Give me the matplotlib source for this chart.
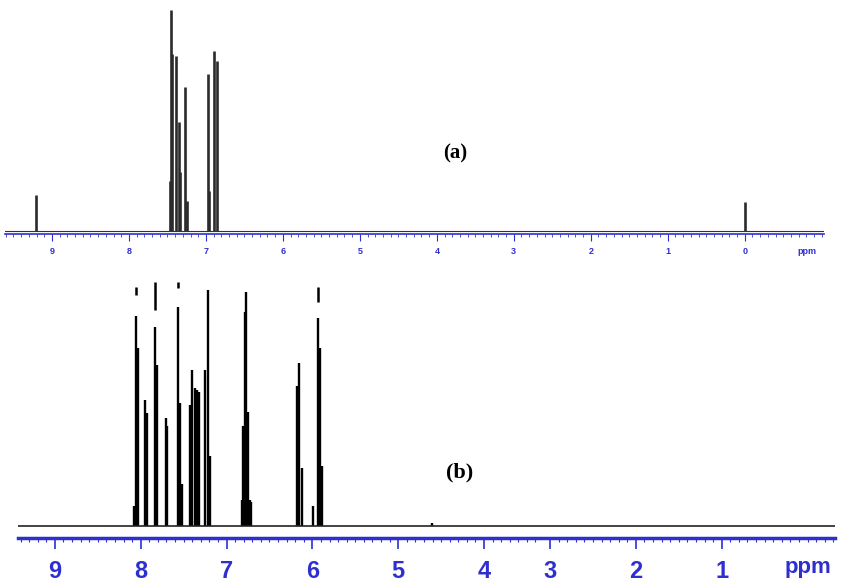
import numpy as np
import matplotlib.pyplot as plt

# (a) peak positions (ppm) and heights (relative intensity)
ppm_a = [9.21, 7.47, 7.455, 7.435, 7.39, 7.35, 7.34, 7.27, 7.25, 6.97, 6.96, 6.90, 6.86, 0.0]
int_a = [36, 50, 221, 177, 175, 109, 59, 144, 30, 157, 40, 180, 170, 29]

# (b) peak positions (ppm) and heights
ppm_b = [8.08, 8.056, 8.03, 7.95, 7.93, 7.83, 7.81, 7.71, 7.69, 7.57, 7.54, 7.52,
         7.42, 7.40, 7.37, 7.35, 7.32, 7.25, 7.22, 7.19,
         6.82, 6.81, 6.79, 6.77, 6.75, 6.73, 6.71,
         6.18, 6.16, 6.12, 5.99, 5.93, 5.91, 5.89, 4.61]
int_b = [20, 210, 178, 126, 113, 199, 161, 108, 100, 219, 123, 42,
         121, 156, 138, 136, 134, 156, 236, 70,
         26, 100, 214, 234, 114, 26, 24,
         140, 163, 58, 20, 208, 178, 60, 3]

# small marks drawn above some multiplets in (b)
mark_ppm = [8.056, 7.83, 7.57, 5.93]
mark_lo = [231, 216, 238, 224]
mark_hi = [239, 244, 244, 239]

ticks_a = [9, 8, 7, 6, 5, 4, 3, 2, 1, 0]
ticks_b = ['9', '8', '7', '6', '5', '4', '3', '2', '1']

blue = '#2f2fd0'
sans = 'Liberation Sans'
fig = plt.figure(figsize=(8.47, 5.88), dpi=100)

# ---- top spectrum (a)
ax1 = fig.add_axes([5 / 847, 1 - 234 / 588, 819 / 847, 229 / 588])
ax1.vlines(ppm_a, 0, int_a, color='#2b2b2b', lw=1.9)
ax1.axhline(0, color='#333333', lw=0.8)
ax1.set_xlim(9.61, -1.03)
ax1.set_ylim(-3, 226)
for s in ['top', 'left', 'right']:
    ax1.spines[s].set_visible(False)
ax1.spines['bottom'].set_color(blue)
ax1.spines['bottom'].set_linewidth(1.2)
ax1.set_yticks([])
ax1.set_xticks(ticks_a)
ax1.set_xticklabels([str(t) for t in ticks_a], fontsize=6.5, fontweight='bold',
                    color=blue, family=sans)
ax1.set_xticks(np.arange(9.6, -1.05, -0.1), minor=True)
ax1.tick_params(axis='x', which='major', length=5, width=0.8, color=blue, pad=4)
ax1.tick_params(axis='x', which='minor', length=2.5, width=0.6, color=blue)
fig.text(807 / 847, 1 - 252 / 588, 'ppm', fontsize=6.5, fontweight='bold', color=blue,
         family=sans, ha='center', va='center')
fig.text(455 / 847, 1 - 153 / 588, '(a)', fontsize=15, fontweight='bold',
         family='Liberation Serif', ha='center', va='center')

# ---- bottom spectrum (b)
ax2 = fig.add_axes([18 / 847, 1 - 538 / 588, 817 / 847, 260 / 588])
ax2.vlines(ppm_b, 0, int_b, color='black', lw=1.7)
ax2.vlines(mark_ppm, mark_lo, mark_hi, color='black', lw=1.8)
ax2.axhline(0, color='#222222', lw=1.2)
ax2.set_xlim(9.43, -0.09)
ax2.set_ylim(-12, 248)
for s in ['top', 'left', 'right']:
    ax2.spines[s].set_visible(False)
ax2.spines['bottom'].set_color(blue)
ax2.spines['bottom'].set_linewidth(2.5)
ax2.set_yticks([])
# the scale is spliced near 3 ppm: the right-hand part is offset
shift = 0.23
major_b = [9, 8, 7, 6, 5, 4, 3 + shift, 2 + shift, 1 + shift]
minor_b = list(np.arange(9.4, 3.3, -0.1)) + list(np.arange(3 + shift, -0.09, -0.1))
ax2.set_xticks(major_b)
ax2.set_xticklabels(ticks_b, fontsize=17, fontweight='bold', color=blue, family=sans)
ax2.set_xticks(minor_b, minor=True)
ax2.tick_params(axis='x', which='major', length=8, width=1.2, color=blue, pad=8)
ax2.tick_params(axis='x', which='minor', length=3, width=0.8, color=blue)
fig.text(808 / 847, 1 - 568 / 588, 'ppm', fontsize=16, fontweight='bold', color=blue,
         family=sans, ha='center', va='center')
fig.text(460 / 847, 1 - 472 / 588, '(b)', fontsize=16, fontweight='bold',
         family='Liberation Serif', ha='center', va='center')

fig.savefig('out.png', dpi=100)
